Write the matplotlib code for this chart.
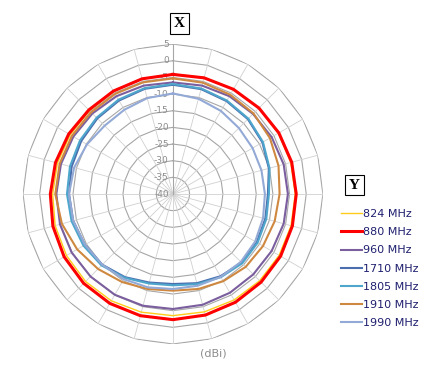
import matplotlib

matplotlib.use("Agg")
import matplotlib.pyplot as plt
import numpy as np

# angles in degrees, clockwise from top (Excel radar categories)
angles = list(range(0, 360, 15))
r_ticks = [5, 0, -5, -10, -15, -20, -25, -30, -35, -40]

freqs = ["824 MHz", "880 MHz", "960 MHz", "1710 MHz", "1805 MHz", "1910 MHz", "1990 MHz"]
gain_824 = [-4.0, -3.8, -3.7, -3.6, -3.5, -3.4, -3.3, -3.3, -3.2, -3.2, -3.3, -3.4,
            -3.5, -3.3, -3.0, -2.9, -3.1, -3.4, -3.9, -4.1, -4.4, -4.6, -4.5, -4.2]
gain_880 = [-4.1, -3.9, -3.7, -3.5, -3.3, -3.1, -3.0, -2.9, -2.7, -2.6, -2.5, -2.4,
            -2.3, -2.2, -2.1, -2.1, -2.3, -2.7, -3.2, -3.5, -3.9, -4.3, -4.3, -4.2]
gain_960 = [-6.5, -6.3, -6.1, -6.0, -5.8, -5.6, -5.5, -5.6, -5.8, -5.9, -5.8, -5.6,
            -5.5, -5.3, -5.1, -5.0, -4.9, -4.9, -5.0, -5.2, -5.5, -5.8, -6.1, -6.3]
gain_1710 = [-7.2, -7.4, -7.8, -8.2, -9.0, -10.2, -11.5, -11.3, -11.0, -10.9, -11.5, -12.3,
             -13.0, -12.5, -11.2, -10.0, -9.5, -9.0, -8.8, -8.5, -8.2, -7.9, -7.6, -7.3]
gain_1805 = [-7.0, -7.2, -7.6, -8.0, -8.8, -10.0, -11.2, -11.0, -10.7, -10.6, -11.2, -12.0,
             -12.6, -12.2, -11.0, -9.7, -9.0, -8.5, -8.2, -8.0, -7.8, -7.6, -7.3, -7.1]
gain_1910 = [-5.3, -5.4, -5.6, -5.8, -6.4, -7.2, -8.0, -8.4, -8.8, -9.1, -9.8, -10.5,
             -11.0, -10.5, -9.5, -8.2, -6.8, -5.5, -4.7, -4.8, -5.0, -5.3, -5.3, -5.3]
gain_1990 = [-9.8, -10.4, -11.2, -12.0, -12.4, -12.5, -12.4, -12.0, -11.5, -11.2, -11.3, -11.5,
             -11.5, -11.0, -10.5, -10.0, -9.5, -9.0, -8.8, -9.3, -10.2, -11.0, -10.8, -10.2]

series = [gain_824, gain_880, gain_960, gain_1710, gain_1805, gain_1910, gain_1990]
colors = ["#FFCC1A", "#FF0000", "#7A5E9E", "#4A6EAE", "#4FA6CC", "#CF8840", "#93A9D6"]
widths = [1.0, 2.2, 1.5, 1.5, 1.5, 1.5, 1.5]

fig = plt.figure(figsize=(4.34, 3.85), dpi=100)
ax = fig.add_axes([0.053, 0.1065, 0.691, 0.779], projection="polar")
ax.set_theta_zero_location("N")
ax.set_theta_direction(-1)
ax.set_ylim(-40, 5)
ax.grid(False)
ax.spines["polar"].set_visible(False)
ax.set_xticks([])
ax.set_yticks([])
ax.patch.set_alpha(0)

th = np.deg2rad(angles)
th_closed = np.append(th, th[0])

# polygon rings and spokes, Excel style
for v in r_ticks[:-1]:
    ax.plot(th_closed, [v] * len(th_closed), color="#A6A6A6", lw=0.8, zorder=1)
for t in th:
    ax.plot([t, t], [-40, 5], color="#D0D0D0", lw=0.6, zorder=1)
ax.plot([0, 0], [-40, 5], color="#A6A6A6", lw=0.8, zorder=1)

for v in r_ticks:
    ax.annotate(str(v), xy=(0, v), xytext=(-3, 0), textcoords="offset points",
                ha="right", va="center", fontsize=6.5, color="#8C8C8C", zorder=2)

for name, vals, c, w in zip(freqs, series, colors, widths):
    ax.plot(th_closed, np.append(vals, vals[0]), color=c, lw=w, label=name, zorder=3)

fig.legend(loc="upper left", bbox_to_anchor=(0.775, 0.468), frameon=False,
           fontsize=8, handlelength=1.9, handletextpad=0.1, labelspacing=0.73,
           borderaxespad=0, labelcolor="#1F1F6F")

box = dict(boxstyle="square,pad=0.25", fc="white", ec="black", lw=0.8)
fig.text(179.5 / 434, 1 - 23.5 / 385, "X", ha="center", va="center", fontsize=11,
         fontweight="bold", family="Liberation Serif", bbox=box)
fig.text(354.5 / 434, 1 - 185 / 385, "Y", ha="center", va="center", fontsize=11,
         fontweight="bold", family="Liberation Serif", bbox=box)
fig.text(213 / 434, 1 - 353 / 385, "(dBi)", ha="center", va="center", fontsize=8,
         color="#8C8C8C")

fig.savefig("out.png", dpi=100)
